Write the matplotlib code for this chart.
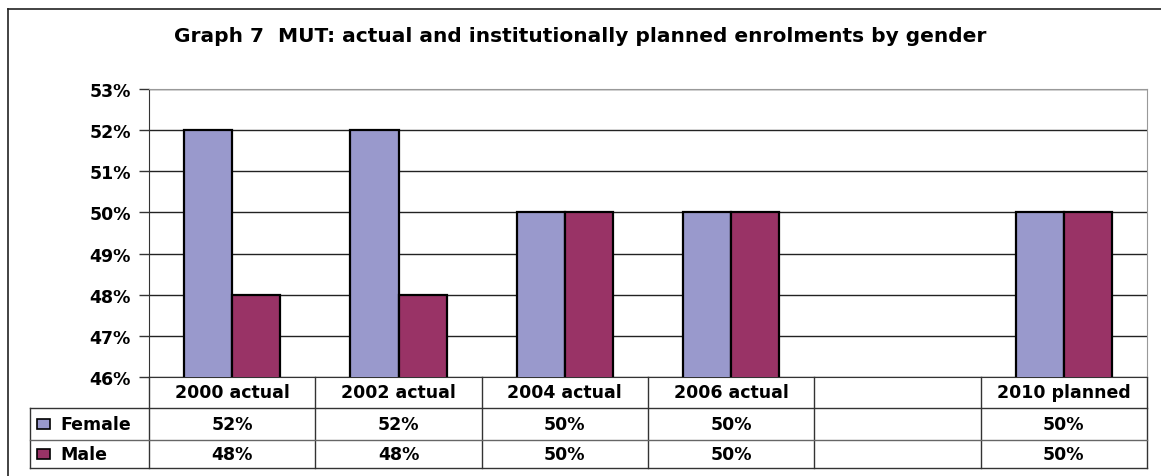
import numpy as np
import matplotlib
matplotlib.use("Agg")
import matplotlib.pyplot as plt
from matplotlib.patches import Rectangle
from matplotlib.lines import Line2D

categories = ["2000 actual", "2002 actual", "2004 actual", "2006 actual", "", "2010 planned"]
female = [52, 52, 50, 50, np.nan, 50]
male = [48, 48, 50, 50, np.nan, 50]
series_names = ["Female", "Male"]
colors = ["#9999CC", "#993366"]
title = "Graph 7  MUT: actual and institutionally planned enrolments by gender"

plt.rcParams["font.family"] = ["DejaVu Sans"]
plt.rcParams["font.weight"] = "bold"

W, H = 1161, 477
fig = plt.figure(figsize=(W / 100, H / 100), dpi=100)
fig.patch.set_facecolor("white")

# outer chart frame (only left and top edges are visible)
fig.add_artist(Line2D([8 / W, 8 / W], [0, 1 - 10 / H], color="#222222", lw=1.2))
fig.add_artist(Line2D([8 / W, 1], [1 - 10 / H, 1 - 10 / H], color="#222222", lw=1.2))

left, right, top, bottom = 149, 1147, 90, 378
ax = fig.add_axes([left / W, 1 - bottom / H, (right - left) / W, (bottom - top) / H])

x = np.arange(len(categories))
bw = 0.29
ax.bar(x - bw / 2, female, bw, color=colors[0], edgecolor="black", lw=1.6, zorder=3)
ax.bar(x + bw / 2, male, bw, color=colors[1], edgecolor="black", lw=1.6, zorder=3)

ax.set_xlim(-0.5, len(categories) - 0.5)
ax.set_ylim(46, 53)
ax.set_yticks(range(46, 54))
ax.set_yticklabels([f"{v}%" for v in range(46, 54)], fontsize=12.5, fontweight="bold")
ax.yaxis.grid(True, color="#222222", lw=1)
ax.set_axisbelow(True)
ax.tick_params(axis="y", length=7, width=1, color="#333333", pad=6)
ax.set_xticks([])
for s in ["top", "right"]:
    ax.spines[s].set_color("#999999")
ax.spines["left"].set_color("#333333")
ax.spines["bottom"].set_color("#333333")

# data table below the plot
px = 1 / (bottom - top)
cw = (right - left) / len(categories)
row_bottoms = [-(409 - bottom) * px, -(441 - bottom) * px, -(469 - bottom) * px]
tr = ax.get_xaxis_transform()
kw = dict(transform=tr, clip_on=False, color="#333333", lw=1)
legend_left = -0.5 - (left - 30) / cw

# vertical lines
for i in range(len(categories) + 1):
    ax.add_line(Line2D([i - 0.5, i - 0.5], [0, row_bottoms[-1]], **kw))
ax.add_line(Line2D([legend_left, legend_left], [row_bottoms[0], row_bottoms[-1]], **kw))
# horizontal lines
ax.add_line(Line2D([legend_left, len(categories) - 0.5], [row_bottoms[0]] * 2, **kw))
ax.add_line(Line2D([legend_left, len(categories) - 0.5], [row_bottoms[1]] * 2,
                   transform=tr, clip_on=False, color="#666666", lw=1))
ax.add_line(Line2D([legend_left, len(categories) - 0.5], [row_bottoms[2]] * 2, **kw))

tkw = dict(transform=tr, ha="center", va="center", fontsize=12.5, fontweight="bold", clip_on=False)
for i, c in enumerate(categories):
    ax.text(i, row_bottoms[0] / 2, c, **tkw)
rows = [female, male]
for r, vals in enumerate(rows):
    yc = (row_bottoms[r] + row_bottoms[r + 1]) / 2
    for i, v in enumerate(vals):
        if not np.isnan(v):
            ax.text(i, yc, f"{v:.0f}%", **tkw)
    # legend key
    ax.add_patch(Rectangle((legend_left + 7 / cw, yc - 5 * px), 13 / cw, 10 * px,
                           transform=tr, clip_on=False, facecolor=colors[r],
                           edgecolor="black", lw=1.2))
    ax.text(legend_left + 30 / cw, yc, series_names[r], transform=tr, ha="left",
            va="center", fontsize=12.5, fontweight="bold", clip_on=False)

fig.text(580 / W, 1 - 37 / H, title, ha="center", va="center", fontsize=14.5,
         fontweight="bold")

fig.savefig("out.png", dpi=100)
